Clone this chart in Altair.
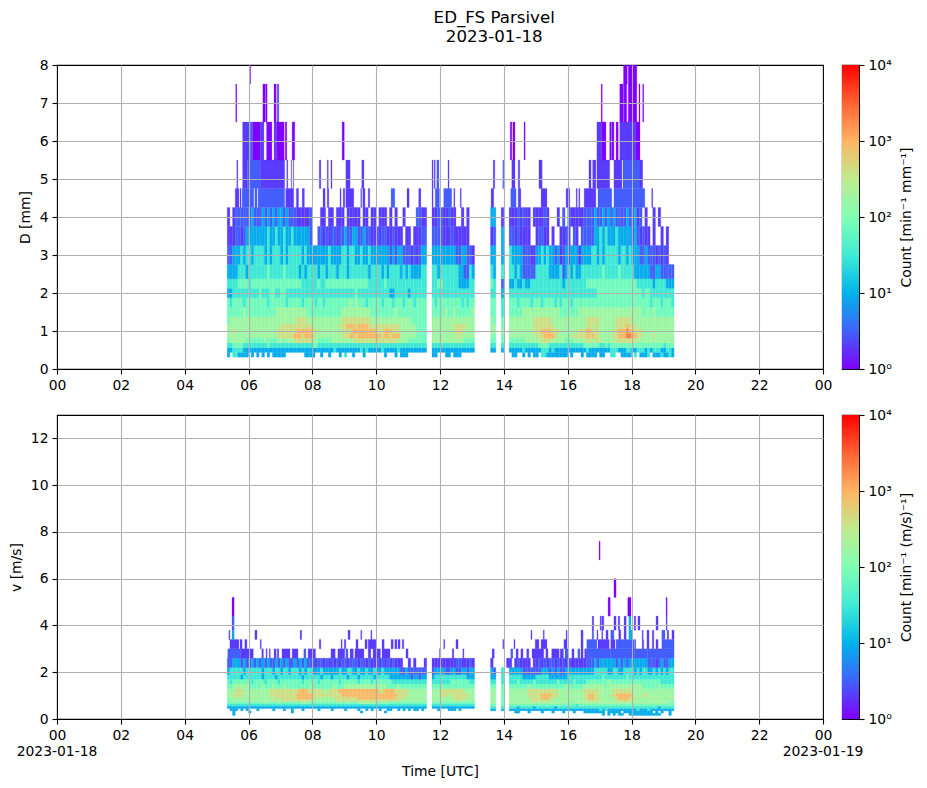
import altair as alt
import pandas as pd

FONT = "DejaVu Sans"
TITLE_LINES = ["ED_FS Parsivel", "2023-01-18"]
DATE_LABELS = [{"t": 0, "label": "2023-01-18"}, {"t": 1440, "label": "2023-01-19"}]
RAINBOW = ["#8000ff", "#4062fa", "#00b4eb", "#40ebd4", "#80ffb4", "#bfeb8e", "#ffb462", "#ff6232", "#ff0000"]
# code -> count
LEVELS = {"1": 1, "2": 2, "3": 3, "4": 9, "5": 30, "6": 75, "7": 170, "8": 400, "9": 900, "a": 2200}
FIRST_MINUTE = 320
STEP = 5

D_EDGES = [0.312, 0.437, 0.562, 0.687, 0.812, 0.937, 1.062, 1.187, 1.375, 1.625, 1.875, 2.125, 2.375, 2.75, 3.25, 3.75, 4.25]
# one string per diameter class, bottom class first; each block is one hour of 5-minute columns from 05:20
D_CODES = [
 "4.554444.4.4 .4.4.44444.. .....4444..4 ..4...4.5..4 ...4.......4 ...4.444.... .....44...44 .444........ ...........4 4..4.4.44.55 44444444.4.. .4.4444.44.. 55..4444.5.4 445.44454454",
 "445555444444 444444444444 444444444444 444454444444 445454444454 444454444444 444..4444444 444444444... ...44..4..44 444544444455 545444444444 444544444444 555444554455 545455544554",
 "556666555555 555655555555 555555556655 555555555555 555555555555 555555555555 555..5555555 555555555... ...55..5..55 555555555666 655555555555 556666665565 666666666666 666666665666",
 "677777766666 667666677677 788888887766 666777777777 888888888888 888877776666 666..7777777 777776666... ...66..6..66 666677777788 887777766677 777887887777 778888888877 777777777777",
 "777777777777 777777788888 899989998777 777777788899 899999999989 989997777776 666..7777777 778877777... ...76..6..77 777777778889 999877777788 888989887777 788999aa9988 777787777777",
 "778777777777 777777788888 889999998877 777777788889 999999998889 998887777776 666..7777777 788887777... ...77..7..77 777777788899 998887777777 888998887777 788999a99888 777777777777",
 "777777777777 777777778888 888888887777 777777888999 899998888888 888887777776 666..7777777 788888777... ...77..6..77 777777788888 888777777777 777887887777 778888988877 777777777777",
 "677777777777 777777777777 778888777777 777777788888 888888777777 777777777666 666..7777777 777777777... ...76..6..77 777777788888 887777777777 777888887777 778888887777 777777777777",
 "666666766666 666666777777 777777666666 666666677777 777777666666 666766666666 666..6666676 676666667... ...66..5..66 666777777777 777776666666 777777777777 777777777777 667676666666",
 "656666566666 666566666656 666656666566 566666666676 766656666656 665666566656 666..6566666 666656566... ...66..5..66 656666566656 666565666566 666666666666 666666666666 666566656665",
 "445555555555 655566556655 555555555555 555555555555 655555555555 544555554555 555..5555555 555555555... ...55..4..55 555555555555 555555555555 555555566666 666666666666 566555555555",
 "555566665666 666666666666 666655555565 566666666666 666665555556 555555555555 555..5566555 555444455... ...65..3..44 544544555555 555555455555 555666666666 666666666655 555545555444",
 "444455545555 555655555655 555454555545 545554555455 555554555545 455554545444 455..5545555 555443354... ...54..5..55 454333335555 544445345454 455555555655 555655555444 444334433333",
 "334445455455 554545554545 555545444444 445444455455 445445444444 434344333232 344..4444444 443344332... ...44..4..54 444333224454 544342343444 244445545455 555455454443 3433323232..",
 "222332344444 444544544544 54444443..33 232332334334 433433223233 223222.22.22 233..3333222 3222222..... ...23..4..33 232222..2332 2.2..2232.32 .33333445454 445444443432 322.2..2.2..",
 "2.2333333433 343434344343 33222223...2 2.22.222.222 22.22.22.222 .2.2..2....3 322..2233223 22..2.2..... ...44..2..22 232322.22223 2...2.3.3222 223333433434 343333433423 .2..2.2.....",
]

# sparse classes: (first minute, last minute, code)
D_SPARSE = [
 (4.25, 4.75, [(335,342,"2"),(344,346,"2"),(348,370,"3"),(372,376,"3"),(378,428,"3"),(430,445,"2"),(450,454,"2"),(461,465,"2"),
  (500,504,"2"),(508,511,"2"),(532,534,"2"),(538,541,"2"),(543,558,"2"),(571,573,"3"),(575,579,"2"),(585,588,"2"),(628,635,"3"),
  (658,662,"2"),(680,684,"2"),(705,707,"2"),(711,719,"3"),(727,742,"3"),(746,748,"2"),(758,760,"2"),(816,821,"2"),(853,863,"3"),
  (867,872,"2"),(910,921,"2"),(957,964,"2"),(976,978,"2"),(981,983,"2"),(991,1013,"2"),(1017,1043,"3"),(1047,1105,"3"),(1118,1120,"2")]),
 (4.75, 5.5, [(338,340,"2"),(349,358,"2"),(358,382,"3"),(382,428,"2"),(432,434,"2"),(440,441,"2"),(444,445,"2"),(493,496,"2"),
  (508,510,"2"),(515,517,"2"),(543,551,"2"),(573,577,"2"),(705,707,"2"),(709,711,"2"),(714,718,"3"),(735,737,"2"),(820,823,"2"),
  (838,840,"3"),(855,861,"2"),(867,870,"2"),(906,912,"2"),(1000,1004,"2"),(1007,1013,"2"),(1015,1039,"2"),(1047,1062,"2"),
  (1064,1096,"3"),(1096,1101,"2")]),
 (5.5, 6.5, [(349,364,"2"),(364,368,"3"),(368,382,"1"),(382,389,"2"),(394,404,"1"),(408,413,"2"),(413,427,"1"),(429,432,"1"),
  (442,447,"1"),(536,540,"1"),(852,855,"1"),(857,861,"1"),(878,880,"1"),(1015,1024,"2"),(1024,1032,"1"),(1039,1042,"1"),
  (1043,1047,"1"),(1051,1055,"1"),(1058,1088,"2"),(1088,1096,"1")]),
 (6.5, 7.5, [(336,338,"1"),(387,391,"1"),(392,395,"1"),(408,412,"1"),(414,417,"2"),(1023,1025,"1"),(1058,1065,"1"),(1066,1071,"1"),
  (1074,1090,"1"),(1094,1096,"1"),(1101,1103,"1")]),
 (7.5, 8.5, [(362,364,"1"),(1065,1072,"1"),(1074,1090,"1")]),
]

V_EDGES = [0.15, 0.25, 0.35, 0.45, 0.55, 0.65, 0.75, 0.85, 0.95, 1.1, 1.3, 1.5, 1.7, 1.9, 2.2, 2.6]
V_CODES = [
 "..4......... ............ ............ ............ ............ ............ ............ ............ ............ ............ ............ .........4.4 .4.44..44444 4444444...4.",
 "..4.....4... ............ 4........... ............ ..4........4 ............ ............ ............ ............ 44...4....4. ..4...4...4. ..44444444.4 4444.4444444 4444.4.4..4.",
 ".444.4.4...4 .....4...4.. 4...4.....4. ...4....4... .4..4.4..4.. 44..4.4.4.44 .4.....4...4 44.4........ ...44..4..44 444444444444 444444444444 444444445454 444444444454 445444444444",
 "444444444444 444444444444 444444444444 444444444444 444444444444 444444444444 444..4444444 444444444... ...55..5..55 545555545555 555455555555 555555555555 555555555555 555555455555",
 "555555555555 555555555555 555555555555 555555555555 555555555555 555555555555 555..5555555 555555555... ...66..6..66 666666666666 666666666665 666666666666 666666666666 666666666666",
 "666666666666 667666676666 666677666666 666666766766 677777776677 666666666666 666..6666666 666666666... ...77..6..77 777777777777 777777776677 777777777777 777777777777 777777777766",
 "677777777777 777778778888 888888887777 777778888888 888888888888 888887777777 777..7777777 778877777... ...77..6..77 777777888888 887777777777 777888887777 778889887777 777777777777",
 "777777777777 777777888888 889999998877 777788888888 899999999999 999888877777 777..7777777 788888777... ...77..6..77 777777888899 988777777777 778899887777 778999988877 777877777777",
 "778888777777 777788888888 889999998888 888888899999 999999999999 999988887777 777..7778887 888888877... ...77..6..77 777778888899 998887777777 778899887777 889999998777 887777777777",
 "777888777777 777788888888 888999888888 778888999999 999999999889 999888887777 777..7778888 888887777... ...77..6..77 777778888888 888877777777 778888887777 788888887777 777777777777",
 "667777776666 676667666766 666666676666 666676667777 777777777777 666676666666 666..6666666 666666666... ...66..6..66 666667666666 666666676666 667777777767 777777777777 666666766666",
 "656666666566 665666656666 666656666656 666666566666 656666566666 665555555555 555..5555555 666666655... ...55..5..55 565555565555 555565555565 555666666667 666666666666 666666655555",
 "555554555555 545555455555 555545555554 555455555455 545555545555 544444444344 344..4555555 555555444... ...44..5..55 555444445555 544444445555 555555555655 555555655555 555555555555",
 "455555455555 545554554554 555454554445 444444544554 454454454454 444443343333 333..3444433 443344344... ...43..5..44 444333333344 434343344444 444444555554 455445555454 554454545455",
 "334443433434 343433434343 343434333233 232323233233 323323223232 323222..2.2. ..2..2222222 223322232... ...2.....22 232222.22323 233232323222 222333434444 443434344444 443332343344",
]

V_SPARSE = [
 (2.6, 3.0, [(321,345,"3"),(345,369,"2"),(385,388,"2"),(393,395,"2"),(399,401,"2"),(408,412,"2"),(414,417,"2"),(423,438,"2"),
  (442,453,"2"),(464,468,"3"),(472,486,"2"),(515,523,"2"),(528,541,"2"),(543,547,"3"),(551,557,"2"),(560,577,"2"),(585,590,"2"),
  (594,608,"2"),(611,626,"2"),(656,660,"2"),(719,721,"2"),(743,746,"2"),(763,765,"2"),(818,822,"2"),(853,857,"3"),(863,867,"2"),
  (872,876,"2"),(883,887,"2"),(893,915,"2"),(919,923,"2"),(930,944,"2"),(946,952,"2"),(955,961,"3"),(968,972,"2"),(979,983,"3"),
  (985,989,"2"),(992,996,"2"),(996,1040,"3"),(1040,1085,"3"),(1085,1110,"3"),(1110,1160,"3")]),
 (3.0, 3.4, [(325,342,"2"),(344,348,"2"),(353,357,"2"),(382,384,"2"),(493,496,"2"),(534,536,"2"),(540,543,"2"),(562,566,"2"),
  (579,583,"2"),(585,600,"2"),(611,615,"2"),(628,632,"2"),(635,639,"2"),(641,645,"2"),(649,652,"2"),(727,729,"2"),(750,754,"2"),
  (838,840,"2"),(859,861,"2"),(899,906,"2"),(910,921,"2"),(953,959,"2"),(985,989,"2"),(996,1015,"3"),(1017,1038,"2"),(1041,1049,"2"),
  (1051,1085,"3"),(1086,1088,"2"),(1100,1103,"2"),(1109,1113,"2"),(1119,1122,"2"),(1126,1130,"2"),(1137,1160,"3")]),
 (3.4, 3.8, [(323,325,"2"),(329,333,"4"),(372,376,"2"),(457,460,"2"),(547,551,"2"),(571,573,"2"),(590,592,"2"),(891,893,"2"),
  (914,916,"2"),(957,959,"2"),(985,989,"2"),(1006,1009,"3"),(1015,1017,"2"),(1024,1026,"2"),(1032,1036,"2"),(1041,1047,"3"),
  (1056,1060,"2"),(1066,1070,"2"),(1075,1081,"4"),(1100,1102,"2"),(1109,1113,"2"),(1119,1122,"2"),(1137,1143,"3"),(1147,1150,"2"),
  (1156,1160,"2")]),
 (3.8, 4.4, [(329,333,"3"),(1006,1009,"2"),(1021,1023,"2"),(1024,1028,"2"),(1047,1051,"2"),(1055,1058,"2"),(1066,1070,"2"),
  (1075,1079,"4"),(1085,1088,"2"),(1092,1096,"2"),(1126,1130,"2"),(1145,1147,"2")]),
 (4.4, 5.2, [(329,333,"1"),(1036,1040,"1"),(1073,1079,"1"),(1145,1147,"1")]),
 (5.2, 6.0, [(1047,1051,"1")]),
 (6.8, 7.6, [(1019,1021,"1")]),
]


def build(edges, codes, sparse):
    rows = []
    for r, text in enumerate(codes):
        line = "".join(g[:12].ljust(12, ".") for g in text.split(" "))
        for c, ch in enumerate(line[:168]):
            if ch in LEVELS:
                t = FIRST_MINUTE + c * STEP
                rows.append({"t0": t, "t1": t + STEP, "lo": edges[r], "hi": edges[r + 1], "count": LEVELS[ch]})
    for lo, hi, spans in sparse:
        for a, b, ch in spans:
            rows.append({"t0": a, "t1": b, "lo": lo, "hi": hi, "count": LEVELS[ch]})
    return pd.DataFrame(rows)


W, H, CB = 766, 304, 17
color_scale = alt.Scale(type="log", domain=[1, 10000], range=RAINBOW, interpolate="rgb")
hour_label = "(datum.value/60)%24 < 10 ? '0'+(datum.value/60)%24 : ''+(datum.value/60)%24"
axis_style = dict(labelFont=FONT, labelFontSize=13.9, titleFont=FONT, titleFontSize=13.9, titleFontWeight="normal",
                  labelColor="black", titleColor="black", tickColor="black", tickWidth=1.1, tickSize=5,
                  domain=False, gridColor="#b0b0b0", gridWidth=1.1, labelPadding=4)


def no_edge_grid(a, b):
    return {"condition": {"test": f"datum.value=={a}||datum.value=={b}", "value": 0}, "value": 1}


def panel(df, ymax, yticks, ytitle, bottom):
    xaxis = alt.Axis(values=list(range(0, 1441, 120)), labelExpr=hour_label, grid=True, zindex=1, labelFlush=False,
                     gridOpacity=no_edge_grid(0, 1440), labelOverlap=False,
                     title="Time [UTC]" if bottom else None, titlePadding=23, **axis_style)
    x = alt.X("t0:Q", scale=alt.Scale(domain=[0, 1440], nice=False, zero=False), axis=xaxis)
    y = alt.Y("lo:Q", scale=alt.Scale(domain=[0, ymax], nice=False, zero=False),
              axis=alt.Axis(values=yticks, grid=True, zindex=1, title=ytitle, labelOverlap=False, titlePadding=7,
                            gridOpacity=no_edge_grid(0, ymax), **axis_style))
    cs = alt.Color("count:Q", scale=color_scale, legend=None)
    rect = alt.Chart(df).mark_rect(clip=True, strokeWidth=0.25).encode(x=x, x2="t1:Q", y=y, y2="hi:Q", color=cs, stroke=cs)
    if not bottom:
        return rect.properties(width=W, height=H)
    dates = alt.Chart(pd.DataFrame(DATE_LABELS)).mark_text(font=FONT, fontSize=13.9, color="black", clip=False).encode(
        x=alt.X("t:Q"), y=alt.value(H + 33), text="label:N")
    return alt.layer(rect, dates).properties(width=W, height=H)


def colorbar(title):
    y = alt.Y("a:Q", scale=alt.Scale(type="log", domain=[1, 10000], nice=False),
              axis=alt.Axis(values=[1, 10, 100, 1000, 10000], orient="right", title=title, titleAngle=270, grid=False,
                            labelExpr="{1:'10⁰',10:'10¹',100:'10²',1000:'10³',10000:'10⁴'}[datum.value]",
                            titlePadding=22, labelOverlap=False, **axis_style))
    grad = alt.LinearGradient(gradient="linear", x1=0, y1=1, x2=0, y2=0,
                              stops=[alt.GradientStop(offset=i / 8, color=c) for i, c in enumerate(RAINBOW)])
    return alt.Chart(pd.DataFrame({"a": [1], "b": [10000]})).mark_rect(color=grad).encode(
        x=alt.value(0), x2=alt.value(CB), y=y, y2="b:Q").properties(width=CB, height=H)


chart = alt.concat(
    panel(build(D_EDGES, D_CODES, D_SPARSE), 8, list(range(0, 9)), "D [mm]", False),
    colorbar("Count [min⁻¹ mm⁻¹]"),
    panel(build(V_EDGES, V_CODES, V_SPARSE), 13, list(range(0, 13, 2)), "v [m/s]", True),
    colorbar("Count [min⁻¹ (m/s)⁻¹]"),
    columns=2, spacing={"row": 46, "column": 19}, bounds="flush",
).properties(
    title=alt.TitleParams(TITLE_LINES, font=FONT, fontSize=16.67, fontWeight="normal", color="black", anchor="middle",
                          lineHeight=19, offset=12, dx=33),
    padding={"left": 0, "top": 1, "right": 0, "bottom": 0},
).configure_view(stroke="black", strokeWidth=1.1)

chart.save("out.html", embed_options={"renderer": "svg", "actions": False})
